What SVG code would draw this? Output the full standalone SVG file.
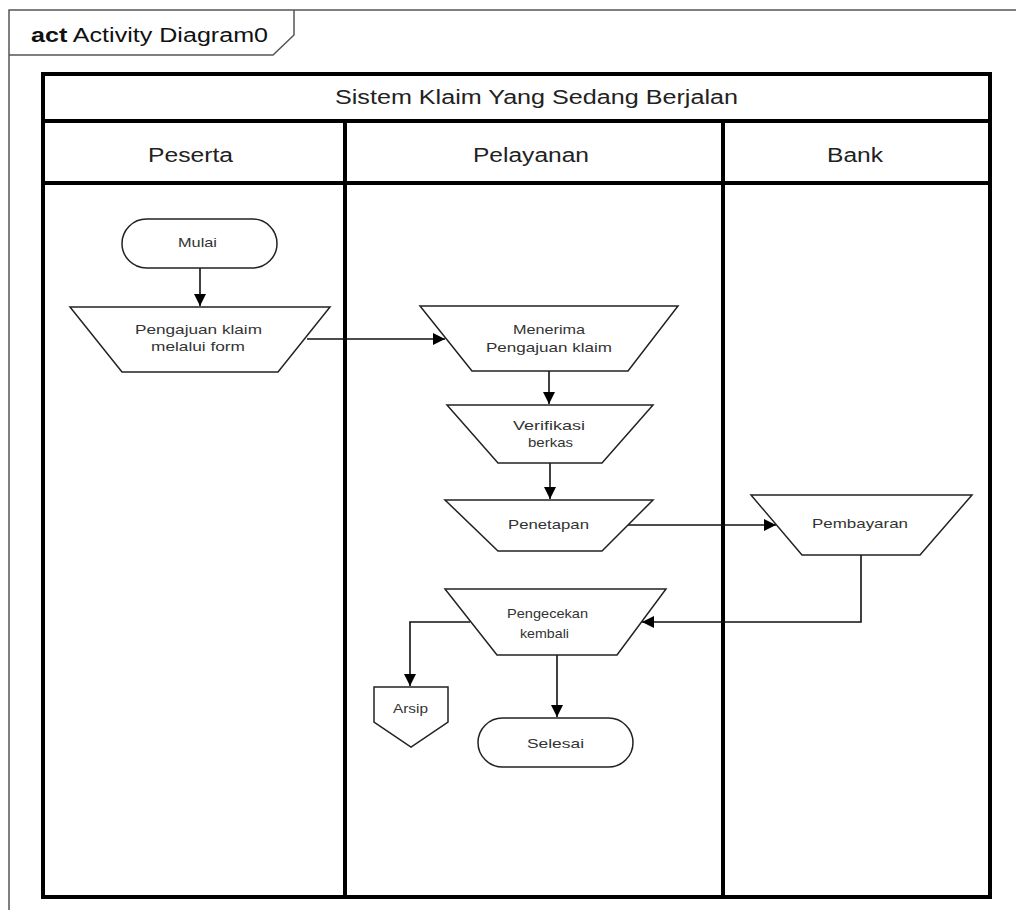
<svg xmlns="http://www.w3.org/2000/svg" width="1016" height="910" viewBox="0 0 1016 910">
<style>
.lane{fill:none;stroke:#000;stroke-width:4}
.node{fill:#fff;stroke:#222;stroke-width:1.5}
.ntext{font-family:"Liberation Sans",Arial,sans-serif;font-size:13px;fill:#333}
.htext{font-family:"Liberation Sans",Arial,sans-serif;font-size:20px;fill:#222}
.conn{fill:none;stroke:#111;stroke-width:1.6}
</style>
<defs>
<marker id="arr" markerUnits="userSpaceOnUse" markerWidth="14" markerHeight="14" refX="12" refY="6" orient="auto">
<path d="M0,0 L12,6 L0,12 Z" fill="#000"/>
</marker>
</defs>
<rect width="1016" height="910" fill="#fff"/>
<g id="frame">
<path d="M9,920 L9,10 L1030,10" fill="none" stroke="#555" stroke-width="1.5"/>
<path d="M9,55 L273,55 L294,35 L294,10" fill="none" stroke="#555" stroke-width="1.5"/>
<text x="31" y="42" font-family="Liberation Sans,Arial,sans-serif" font-size="20" fill="#111" textLength="237" lengthAdjust="spacingAndGlyphs"><tspan font-weight="bold">act</tspan> Activity Diagram0</text>
</g>
<g id="swimlanes">
<rect class="lane" x="43" y="74" width="947" height="823"/>
<line class="lane" x1="43" y1="121" x2="990" y2="121" stroke-width="5"/>
<line class="lane" x1="43" y1="183" x2="990" y2="183"/>
<line class="lane" x1="345" y1="121" x2="345" y2="897"/>
<line class="lane" x1="723" y1="121" x2="723" y2="897"/>
<text class="htext" x="335" y="104" font-size="19" textLength="403" lengthAdjust="spacingAndGlyphs">Sistem Klaim Yang Sedang Berjalan</text>
<text class="htext" x="148" y="162" textLength="85" lengthAdjust="spacingAndGlyphs">Peserta</text>
<text class="htext" x="473" y="162" textLength="116" lengthAdjust="spacingAndGlyphs">Pelayanan</text>
<text class="htext" x="827" y="162" textLength="56" lengthAdjust="spacingAndGlyphs">Bank</text>
</g>
<g id="connectors">
<line class="conn" x1="200" y1="268" x2="200" y2="306" marker-end="url(#arr)"/>
<line class="conn" x1="307" y1="339" x2="445" y2="339" marker-end="url(#arr)"/>
<line class="conn" x1="549" y1="371" x2="549" y2="404" marker-end="url(#arr)"/>
<line class="conn" x1="550" y1="463" x2="550" y2="499" marker-end="url(#arr)"/>
<line class="conn" x1="628" y1="525" x2="776" y2="525" marker-end="url(#arr)"/>
<polyline class="conn" points="861,555 861,622 642,622" marker-end="url(#arr)"/>
<polyline class="conn" points="470,622 410,622 410,686" marker-end="url(#arr)"/>
<line class="conn" x1="557" y1="655" x2="557" y2="717" marker-end="url(#arr)"/>
</g>
<g id="mulai">
<rect class="node" x="122" y="219" width="155" height="49" rx="24.5"/>
<text class="ntext" x="178" y="247" textLength="39" lengthAdjust="spacingAndGlyphs">Mulai</text>
</g>
<g id="pengajuan">
<polygon class="node" points="70,307 330,307 278,372 122,372"/>
<text class="ntext" x="135" y="334" textLength="127" lengthAdjust="spacingAndGlyphs">Pengajuan klaim</text>
<text class="ntext" x="151" y="351" textLength="94" lengthAdjust="spacingAndGlyphs">melalui form</text>
</g>
<g id="menerima">
<polygon class="node" points="420,306 678,306 628,371 472,371"/>
<text class="ntext" x="513" y="334" textLength="72" lengthAdjust="spacingAndGlyphs">Menerima</text>
<text class="ntext" x="486" y="352" textLength="126" lengthAdjust="spacingAndGlyphs">Pengajuan klaim</text>
</g>
<g id="verifikasi">
<polygon class="node" points="447,405 653,405 602,463 498,463"/>
<text class="ntext" x="513" y="430" textLength="72" lengthAdjust="spacingAndGlyphs">Verifikasi</text>
<text class="ntext" x="528" y="447" textLength="45" lengthAdjust="spacingAndGlyphs">berkas</text>
</g>
<g id="penetapan">
<polygon class="node" points="445,500 653,500 602,551 498,551"/>
<text class="ntext" x="508" y="529" textLength="81" lengthAdjust="spacingAndGlyphs">Penetapan</text>
</g>
<g id="pembayaran">
<polygon class="node" points="751,495 972,495 920,555 802,555"/>
<text class="ntext" x="812" y="528" textLength="96" lengthAdjust="spacingAndGlyphs">Pembayaran</text>
</g>
<g id="pengecekan">
<polygon class="node" points="445,589 666,589 617,655 497,655"/>
<text class="ntext" x="507" y="618" textLength="81" lengthAdjust="spacingAndGlyphs">Pengecekan</text>
<text class="ntext" x="520" y="638" textLength="49" lengthAdjust="spacingAndGlyphs">kembali</text>
</g>
<g id="arsip">
<polygon class="node" points="374,687 448,687 448,722 411,747 374,722"/>
<text class="ntext" x="393" y="713" textLength="35" lengthAdjust="spacingAndGlyphs">Arsip</text>
</g>
<g id="selesai">
<rect class="node" x="478" y="718" width="155" height="49" rx="24.5"/>
<text class="ntext" x="527" y="748" textLength="57" lengthAdjust="spacingAndGlyphs">Selesai</text>
</g>
</svg>
